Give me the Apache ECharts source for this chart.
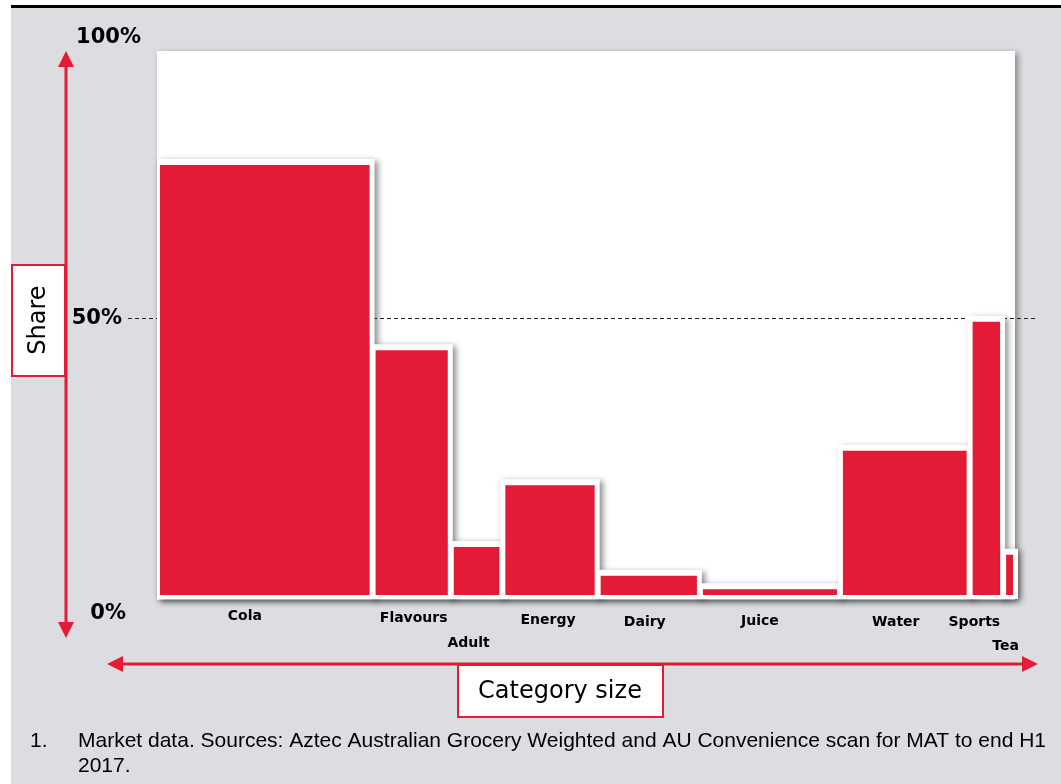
<!DOCTYPE html>
<html>
<head>
<meta charset="utf-8">
<script src="https://cdn.jsdelivr.net/npm/echarts@6/dist/echarts.min.js"></script>
<style>
html,body{margin:0;padding:0;background:#fff;}
#c{width:1061px;height:784px;}
</style>
</head>
<body>
<div id="c"></div>
<script>
// ---- data ----
const categories = ['Cola','Flavours','Adult','Energy','Dairy','Juice','Water','Sports','Tea'];
const categorySize = [25.1, 9.1, 6.0, 11.1, 11.9, 16.3, 15.1, 3.9, 1.5]; // % of total market (bar width)
const share = [77.7, 44.4, 9.0, 20.1, 3.8, 1.4, 26.3, 49.5, 7.6];        // % share (bar height)
const yTicks = [0, 50, 100];
const yTickLabels = ['0%', '50%', '100%'];
const refLine = 50;
const yTitle = 'Share';
const xTitle = 'Category size';
const footnoteNum = '1.';
const footnoteLines = ['Market data. Sources: Aztec Australian Grocery Weighted and AU Convenience scan for MAT to end H1', '2017.'];

// ---- layout (not data) ----
const RED = '#e31b37';
const BG = '#dcdde0';
const labelLayout = {
  Cola:{dx:-20,dy:19}, Flavours:{dx:2,dy:21}, Adult:{dx:-8,dy:46}, Energy:{dx:-2,dy:23},
  Dairy:{dx:-4,dy:25}, Juice:{dx:-10,dy:24}, Water:{dx:-9,dy:25}, Sports:{dx:-12,dy:25}, Tea:{dx:-4,dy:49}
};

const items = [];
let cum = 0;
categories.forEach((c, i) => {
  items.push([cum, cum + categorySize[i], share[i], i]);
  cum += categorySize[i];
});

const chart = echarts.init(document.getElementById('c'), null, {renderer:'canvas'});
const font = 'DejaVu Sans';

const tickRich = {
  t0:{fontFamily:font,fontWeight:'bold',fontSize:21,color:'#000',padding:[34,15,0,0]},
  t50:{fontFamily:font,fontWeight:'bold',fontSize:21,color:'#000',padding:[0,19,0,0]},
  t100:{fontFamily:font,fontWeight:'bold',fontSize:21,color:'#000',padding:[0,0,6,0]}
};

chart.setOption({
  backgroundColor:'#fff',
  animation:false,
  grid:{left:157, right:45, top:41, bottom:187, containLabel:false},
  xAxis:{type:'value', min:0, max:100, show:false},
  yAxis:{type:'value', min:0, max:100, interval:50,
    axisLine:{show:false}, axisTick:{show:false}, splitLine:{show:false},
    axisLabel:{show:true, margin:16, showMinLabel:true, showMaxLabel:true,
      formatter:(v)=>{const k=yTicks.indexOf(v); return k<0?'':'{t'+v+'|'+yTickLabels[k]+'}';},
      rich:tickRich}
  },
  series:[{
    type:'custom',
    z:5,
    clip:false,
    data:items,
    renderItem:(params, api)=>{
      const x0 = api.coord([api.value(0),0])[0];
      const x1 = api.coord([api.value(1),0])[0];
      const yv = api.coord([0,api.value(2)])[1];
      const y0 = api.coord([0,0])[1];
      const name = categories[api.value(3)];
      const lay = labelLayout[name] || {dx:0,dy:22};
      const left = api.value(0) === 0 ? x0 : x0-2;
      return {type:'group', children:[
        {type:'rect', shape:{x:left, y:yv-6, width:(x1+2)-left, height:(y0+2)-(yv-6)},
          style:{fill:'#fff', shadowColor:'rgba(0,0,0,0.45)', shadowBlur:6, shadowOffsetX:3, shadowOffsetY:2}},
        {type:'rect', shape:{x:x0+3, y:yv, width:(x1-x0)-6, height:(y0-2)-yv},
          style:{fill:RED}},
        {type:'text', x:(x0+x1)/2+lay.dx, y:y0+lay.dy,
          style:{text:name, fill:'#000', font:'bold 14px "'+font+'"', align:'center', verticalAlign:'middle'}}
      ]};
    }
  }]
});

const y50 = Math.round(chart.convertToPixel({yAxisIndex:0}, refLine)) - 0.5;

chart.setOption({
  graphic:[
    // page background
    {type:'rect', z:-10, shape:{x:11,y:8,width:1050,height:776}, style:{fill:BG}},
    {type:'rect', z:-9, shape:{x:11,y:5,width:1050,height:3}, style:{fill:'#000'}},
    // white plot panel
    {type:'rect', z:-5, shape:{x:157,y:51,width:858,height:549},
      style:{fill:'#fff', shadowColor:'rgba(0,0,0,0.4)', shadowBlur:6, shadowOffsetX:3, shadowOffsetY:2}},
    // 50% reference line
    {type:'line', z:1, shape:{x1:128,y1:y50,x2:1037,y2:y50},
      style:{stroke:'#222', lineWidth:1, lineDash:[4,3]}},
    // vertical arrow
    {type:'line', z:2, shape:{x1:66,y1:62,x2:66,y2:626}, style:{stroke:RED, lineWidth:3}},
    {type:'polygon', z:2, shape:{points:[[66,51],[58,67],[74,67]]}, style:{fill:RED}},
    {type:'polygon', z:2, shape:{points:[[66,638],[58,622],[74,622]]}, style:{fill:RED}},
    // horizontal arrow
    {type:'line', z:2, shape:{x1:118,y1:664,x2:1027,y2:664}, style:{stroke:RED, lineWidth:3}},
    {type:'polygon', z:2, shape:{points:[[107,664],[123,656],[123,672]]}, style:{fill:RED}},
    {type:'polygon', z:2, shape:{points:[[1038,664],[1022,656],[1022,672]]}, style:{fill:RED}},
    // Share box
    {type:'rect', z:3, shape:{x:12,y:265,width:53,height:111}, style:{fill:'#fff', stroke:RED, lineWidth:2}},
    {type:'text', z:4, x:39, y:320, rotation:Math.PI/2,
      style:{text:yTitle, fill:'#000', font:'24px "'+font+'"', align:'center', verticalAlign:'middle'}},
    // Category size box
    {type:'rect', z:3, shape:{x:458,y:665,width:205,height:52}, style:{fill:'#fff', stroke:RED, lineWidth:2}},
    {type:'text', z:4, x:560, y:692,
      style:{text:xTitle, fill:'#000', font:'24px "'+font+'"', align:'center', verticalAlign:'middle'}},
    // footnote
    {type:'text', z:4, x:30, y:741,
      style:{text:footnoteNum, fill:'#000', font:'21px "Liberation Sans"', align:'left', verticalAlign:'middle'}},
    {type:'text', z:4, x:78, y:741,
      style:{text:footnoteLines[0], fill:'#000', font:'21px "Liberation Sans"', align:'left', verticalAlign:'middle'}},
    {type:'text', z:4, x:78, y:766,
      style:{text:footnoteLines[1], fill:'#000', font:'21px "Liberation Sans"', align:'left', verticalAlign:'middle'}}
  ]
});
</script>
</body>
</html>
